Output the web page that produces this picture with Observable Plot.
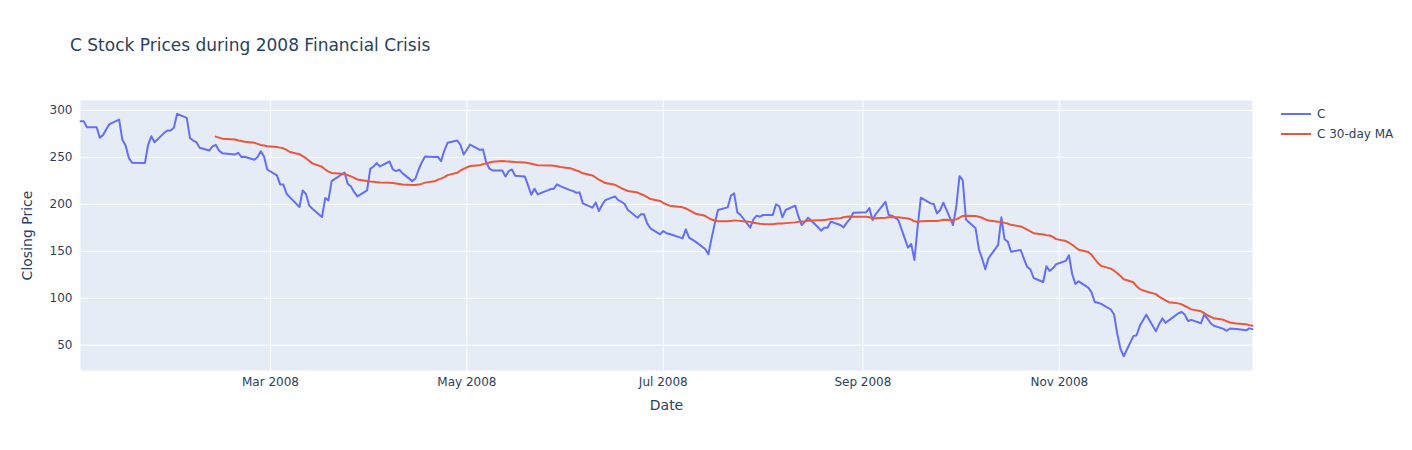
<!DOCTYPE html>
<html>
<head>
<meta charset="utf-8">
<script src="https://cdn.jsdelivr.net/npm/d3@7"></script>
<script src="https://cdn.jsdelivr.net/npm/@observablehq/plot@0.6"></script>
<style>
  body { margin: 0; background: #fff; }
  #wrap { position: relative; width: 1412px; height: 450px; font-family: "DejaVu Sans", Verdana, sans-serif; color: #2a3f5f; }
  #title { position: absolute; left: 70px; top: 34px; font-size: 17px; line-height: 22px; white-space: nowrap; }
  .leg { position: absolute; left: 1281px; font-size: 12px; line-height: 18px; height: 18px; white-space: nowrap; display: flex; align-items: center; }
  .leg svg { margin-right: 6px; }
</style>
</head>
<body>
<div id="wrap">
  <div id="chart"></div>
  <div id="title"></div>
  <div id="legend"></div>
</div>
<script>
const FONT = '"DejaVu Sans", Verdana, sans-serif';
const chartTitle = "C Stock Prices during 2008 Financial Crisis";
const seriesNames = ["C", "C 30-day MA"];
const seriesColors = ["#636EFA", "#EF553B"];
const xLabel = "Date";
const yLabel = "Closing Price";
const yTicks = [50, 100, 150, 200, 250, 300];
const xTickLabels = ["2008-03-01", "2008-05-01", "2008-07-01", "2008-09-01", "2008-11-01"];
const maWindow = 30;

// trading days (day of month) and closing prices, month by month
const daysJan = [2,3,4,7,8,9,10,11,14,15,16,17,18,22,23,24,25,28,29,30,31];
const closeJan = [288.7,288.7,282.3,282.3,271,274,280,285.5,290.4,268.8,262.8,249.6,244.3,244,263.5,272.7,266.3,276.2,278.7,278.7,281.6];
const daysFeb = [1,4,5,6,7,8,11,12,13,14,15,19,20,21,22,25,26,27,28,29];
const closeFeb = [296.5,292.2,270.6,268,266.3,260.3,257.4,261.7,263.5,257.4,254.6,253.2,255,250.4,250.7,247.5,250.4,256.7,251,237.2];
const daysMar = [3,4,5,6,7,10,11,12,13,14,17,18,19,20,24,25,26,27,28,31];
const closeMar = [230.9,221.3,221.3,211.4,207.8,197.2,214.9,211.4,199,195.4,186.5,206.7,204.3,224.8,234,222,219,213,208.5,214.9];
const daysApr = [1,2,3,4,7,8,9,10,11,14,15,16,17,18,21,22,23,24,25,28,29,30];
const closeApr = [237.9,240.4,244,240.4,245.7,237.2,235.5,236.9,233.3,224.8,227.3,236.9,245,251.1,250.4,250.7,246.1,257.4,265.6,268.1,263.5,253.2];
const daysMay = [1,2,5,6,7,8,9,12,13,14,15,16,19,20,21,22,23,27,28,29,30];
const closeMay = [258.2,263.8,258.2,258.5,245,238,236.2,236.2,229.8,235.5,237.2,230.6,229.8,220.2,210.3,216.7,210.6,216.3,216.7,221.3,219.5];
const daysJun = [2,3,4,5,6,9,10,11,12,13,16,17,18,19,20,23,24,25,26,27,30];
const closeJun = [215.2,214.2,212.4,212.8,201.1,196.5,202.1,192.9,199.3,204.6,208.5,204.6,202.8,200.4,194,185.8,189.4,189.4,179.8,174.5,168.1];
const daysJul = [1,2,3,7,8,9,10,11,14,15,16,17,18,21,22,23,24,25,28,29,30,31];
const closeJul = [171.6,169.2,168.4,163.8,173.4,164.6,162.4,160.3,152.5,146.8,163.8,179.8,194,196.8,209.2,211.7,191.5,188.7,175.2,184,188,186.9];
const daysAug = [1,4,5,6,7,8,11,12,13,14,15,18,19,20,21,22,25,26,27,28,29];
const closeAug = [188.7,188.7,200,198.2,186.2,194,198.6,186.9,178,181.6,185.8,175.9,172,175.2,175.2,181.6,178,175.5,180.5,184.5,191];
const daysSep = [2,3,4,5,8,9,10,11,12,15,16,17,18,19,22,23,24,25,26,29,30];
const closeSep = [191.5,196.1,183.3,189.7,202.8,188.7,188,185.8,183.3,153.9,157.8,140.8,176,207.1,201.1,200.4,190.4,194,201.8,178,197.5];
const daysOct = [1,2,3,6,7,8,9,10,13,14,15,16,17,20,21,22,23,24,27,28,29,30,31];
const closeOct = [230.1,225.9,184,174.5,152.5,142.6,130.9,142.6,156.8,186.2,162.8,160.3,149.6,151.4,142.3,133.4,130.9,121.6,117.3,134.1,129.1,131.9,136.2];
const daysNov = [3,4,5,6,7,10,11,12,13,14,17,18,19,20,21,24,25,26,28];
const closeNov = [139.8,145.8,125.5,115.2,118,111.3,106.3,96,95.2,94,88,82.7,62.1,46,38.2,59.6,60.6,70.6,82.5];
const daysDec = [1,2,3,4,5,8,9,10,11,12,15,16,17,18,19,22,23,24,26,29,30,31];
const closeDec = [64.9,72.4,78.5,73.8,76.4,84,85.3,82.3,75.7,77,73.4,82.5,78.2,73.4,70.6,67.4,65.3,67.7,67.1,65.8,67.9,67.1];

const monthDays = [daysJan, daysFeb, daysMar, daysApr, daysMay, daysJun, daysJul, daysAug, daysSep, daysOct, daysNov, daysDec];
const monthCloses = [closeJan, closeFeb, closeMar, closeApr, closeMay, closeJun, closeJul, closeAug, closeSep, closeOct, closeNov, closeDec];

const data = [];
monthDays.forEach((days, m) => days.forEach((d, j) => data.push({date: new Date(Date.UTC(2008, m, d)), close: monthCloses[m][j]})));
const xTickDates = xTickLabels.map(s => new Date(s + "T00:00:00Z"));

const chart = Plot.plot({
  width: 1412,
  height: 450,
  marginLeft: 80,
  marginRight: 160,
  marginTop: 100,
  marginBottom: 80,
  style: {fontFamily: FONT, fontSize: "12px", color: "#2a3f5f", background: "white", overflow: "visible"},
  x: {type: "utc", domain: [data[0].date, data[data.length - 1].date]},
  y: {domain: [23, 310.7]},
  marks: [
    Plot.frame({fill: "#E5ECF6", stroke: null}),
    Plot.gridX(xTickDates, {stroke: "white", strokeOpacity: 1, strokeWidth: 1}),
    Plot.gridY(yTicks, {stroke: "white", strokeOpacity: 1, strokeWidth: 1}),
    Plot.axisX(xTickDates, {tickSize: 0, tickPadding: 7, tickFormat: d3.utcFormat("%b %Y"), label: null, fill: "#2a3f5f"}),
    Plot.axisY(yTicks, {tickSize: 0, tickPadding: 8, label: null, fill: "#2a3f5f"}),
    Plot.text([xLabel], {frameAnchor: "bottom", dy: 35, fontSize: 14, fill: "#2a3f5f", textAnchor: "middle", lineAnchor: "middle"}),
    Plot.text([yLabel], {frameAnchor: "left", dx: -53, rotate: -90, fontSize: 14, fill: "#2a3f5f", textAnchor: "middle", lineAnchor: "middle"}),
    Plot.line(data, {x: "date", y: "close", stroke: seriesColors[0], strokeWidth: 2}),
    Plot.line(data, Plot.windowY({k: maWindow, anchor: "end", strict: true, reduce: "mean"}, {x: "date", y: "close", stroke: seriesColors[1], strokeWidth: 2}))
  ]
});
document.getElementById("chart").appendChild(chart);
document.getElementById("title").textContent = chartTitle;

const legend = document.getElementById("legend");
seriesNames.forEach((name, i) => {
  const item = document.createElement("div");
  item.className = "leg";
  item.style.top = (105 + i * 19.5) + "px";
  item.innerHTML = `<svg width="30" height="4"><line x1="0" y1="2" x2="30" y2="2" stroke="${seriesColors[i]}" stroke-width="2"/></svg><span></span>`;
  item.querySelector("span").textContent = name;
  legend.appendChild(item);
});
</script>
</body>
</html>
